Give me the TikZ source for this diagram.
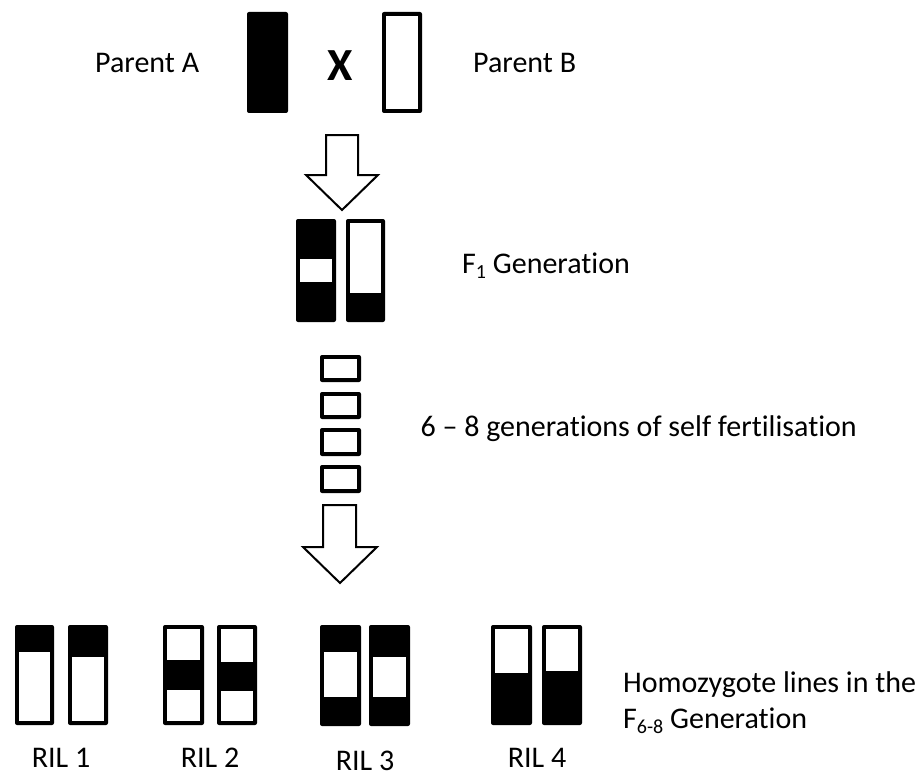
\documentclass[tikz,border=0pt]{standalone}
\usepackage{fontspec}
\setmainfont{Carlito}[Ligatures={NoCommon}]
\newcommand{\chromfill}[4]{\fill[black, rounded corners=2pt] (#1,#2) rectangle (#3,#4);}
\newcommand{\whiteseg}[4]{\fill[white] (#1,#2) rectangle (#3,#4);}
\newcommand{\subtxt}[1]{\raisebox{-5.5pt}{\fontsize{20}{20}\selectfont #1}}
\tikzset{
  lbl/.style={inner sep=0pt, font=\fontsize{30}{36}\selectfont, text=black},
  blockarrow/.style={draw=black, fill=white, line width=2pt, line join=miter}
}
\begin{document}
\begin{tikzpicture}[x=1pt,y=-1pt]
\useasboundingbox (0,0) rectangle (922,776);
% Parents
\chromfill{247}{12}{288}{113}
\chromfill{382}{12}{422}{113}
\whiteseg{386}{16}{418}{109}
\node[lbl, font=\fontsize{46}{50}\selectfont\bfseries] (cross) at (340,66) {X};
\node[lbl, anchor=base west] (pa) at (95,73) {Parent A};
\node[lbl, anchor=base west] (pb) at (473,73) {Parent B};
% Arrow 1
\draw[blockarrow] (326,135) -- (358,135) -- (358,175) -- (378,175) -- (342,210) -- (306,175) -- (326,175) -- cycle;
% F1
\chromfill{296}{219}{336}{322}
\whiteseg{300}{259}{332}{282}
\chromfill{346}{219}{385}{322}
\whiteseg{350}{223}{381}{293}
\node[lbl, anchor=base west] (f1) at (462,273) {F\subtxt{1} Generation};
% Generations boxes
\foreach \ya/\yb in {355/382, 392/419, 428/456, 465/493}{
  \chromfill{320}{\ya}{361}{\yb}
  \whiteseg{324}{\ya+4}{357}{\yb-4}
}
\node[lbl, anchor=base east] (self) at (857,436) {6 – 8 generations of self fertilisation};
% Arrow 2
\draw[blockarrow] (323,505) -- (356,505) -- (356,547) -- (377,547) -- (340,583) -- (303,547) -- (323,547) -- cycle;
% RIL 1
\chromfill{15}{625}{54}{725}
\whiteseg{19}{652}{50}{721}
\chromfill{68}{625}{108}{725}
\whiteseg{72}{657}{104}{721}
% RIL 2
\chromfill{163}{625}{204}{725}
\whiteseg{167}{629}{200}{660}
\whiteseg{167}{690}{200}{721}
\chromfill{217}{625}{257}{725}
\whiteseg{221}{629}{253}{662}
\whiteseg{221}{691}{253}{721}
% RIL 3
\chromfill{320}{625}{361}{726}
\whiteseg{324}{652}{357}{697}
\chromfill{369}{625}{410}{726}
\whiteseg{373}{657}{406}{697}
% RIL 4
\chromfill{491}{625}{532}{725}
\whiteseg{495}{629}{528}{673}
\chromfill{542}{625}{582}{725}
\whiteseg{546}{629}{578}{671}
% Labels
\node[lbl, anchor=base] (r1) at (61,767) {RIL 1};
\node[lbl, anchor=base] (r2) at (210,767) {RIL 2};
\node[lbl, anchor=base] (r3) at (365,770) {RIL 3};
\node[lbl, anchor=base] (r4) at (537,767) {RIL 4};
\node[lbl, anchor=base west] (homo1) at (623,692) {Homozygote lines in the};
\node[lbl, anchor=base west] (homo2) at (623,728) {F\subtxt{6-8} Generation};
\end{tikzpicture}
\end{document}
